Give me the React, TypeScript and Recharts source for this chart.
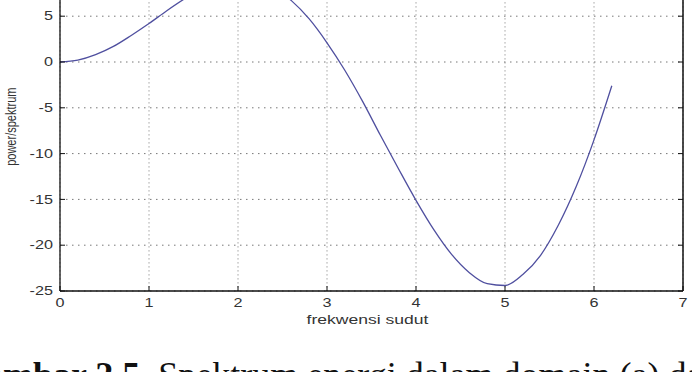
import React from 'react';
import { LineChart, Line, XAxis, YAxis, CartesianGrid, Label } from 'recharts';

const freq = [0, 0.2, 0.4, 0.6, 0.8, 1.0, 1.2, 1.4, 1.6, 1.8, 2.0, 2.2, 2.4, 2.6, 2.8, 3.0, 3.2, 3.4, 3.6, 3.8, 4.0, 4.2, 4.4, 4.6, 4.8, 5.0, 5.2, 5.4, 5.6, 5.8, 6.0, 6.2];
const power = [0, 0.2, 0.8, 1.7, 2.9, 4.2, 5.6, 6.9, 8.0, 8.8, 9.1, 8.9, 8.1, 6.7, 4.7, 2.1, -0.9, -4.3, -8.0, -11.6, -15.1, -18.3, -21.0, -23.0, -24.2, -24.4, -23.2, -21.1, -17.8, -13.6, -8.5, -2.6];
const xTicks = [0, 1, 2, 3, 4, 5, 6, 7];
const yTicks = [-25, -20, -15, -10, -5, 0, 5, 10];
const xLabel = 'frekwensi sudut';
const yLabel = 'power/spektrum';
const captionBold = 'Gambar 2.5.';
const captionRest = ' Spektrum energi dalam domain (a) dan (b)';

const data = freq.map((f, i) => ({ f, p: power[i] }));

const FONT = '"Liberation Sans", Arial, Helvetica, sans-serif';
const SX = 1.35;

const YTickLeft = (props: any) => {
  const { x, y, payload } = props;
  return (
    <g>
      <line x1={x} x2={x + 5} y1={y} y2={y} stroke="#111" strokeWidth={1} />
      <text
        transform={`translate(${x - 7},${y}) scale(${SX},1)`}
        textAnchor="end"
        dy="0.35em"
        fontSize={12}
        fill="#333"
        fontFamily={FONT}
      >
        {payload.value}
      </text>
    </g>
  );
};

const YTickRight = (props: any) => {
  const { x, y } = props;
  return <line x1={x} x2={x - 5} y1={y} y2={y} stroke="#111" strokeWidth={1} />;
};

const XTick = (props: any) => {
  const { x, y, payload } = props;
  return (
    <g>
      <line x1={x} x2={x} y1={y} y2={y - 5} stroke="#111" strokeWidth={1} />
      <text
        transform={`translate(${x},${y + 12}) scale(${SX},1)`}
        textAnchor="middle"
        dy="0.35em"
        fontSize={12}
        fill="#333"
        fontFamily={FONT}
      >
        {payload.value}
      </text>
    </g>
  );
};

const XLabelContent = (props: any) => {
  const vb = props.viewBox || {};
  const cx = vb.x + vb.width / 2 - 4;
  const cy = vb.y + 28;
  return (
    <text
      transform={`translate(${cx},${cy}) scale(${SX},1)`}
      textAnchor="middle"
      dy="0.35em"
      fontSize={13}
      fill="#333"
      fontFamily={FONT}
    >
      {xLabel}
    </text>
  );
};

const YLabelContent = (props: any) => {
  const vb = props.viewBox || {};
  const cy = vb.y + vb.height / 2 - 4;
  return (
    <text
      transform={`translate(11,${cy}) scale(1.3,1) rotate(-90)`}
      textAnchor="middle"
      dy="0.35em"
      fontSize={11}
      fill="#333"
      fontFamily={FONT}
    >
      {yLabel}
    </text>
  );
};

export default function App() {
  return (
    <div
      style={{
        position: 'fixed',
        left: 0,
        top: 0,
        width: 692,
        height: 372,
        overflow: 'hidden',
        background: '#fff',
      }}
    >
      <div style={{ position: 'absolute', left: 0, top: -40 }}>
        <LineChart
          width={723}
          height={412}
          data={data}
          margin={{ top: 10.4, right: 0, left: 0, bottom: 51 }}
        >
          <CartesianGrid
            yAxisId="l"
            horizontal={true}
            vertical={false}
            stroke="#777"
            strokeDasharray="1.5 4.5"
          />
          <CartesianGrid
            yAxisId="l"
            horizontal={false}
            vertical={true}
            stroke="#777"
            strokeDasharray="1 3"
          />
          <XAxis
            dataKey="f"
            type="number"
            domain={[0, 7]}
            ticks={xTicks}
            interval={0}
            height={30}
            tickSize={0}
            tickMargin={0}
            tickLine={false}
            axisLine={{ stroke: '#111', strokeWidth: 1.3 }}
            tick={<XTick />}
          >
            <Label content={<XLabelContent />} />
          </XAxis>
          <YAxis
            yAxisId="l"
            type="number"
            domain={[-25, 10]}
            ticks={yTicks}
            interval={0}
            width={60}
            tickSize={0}
            tickMargin={0}
            tickLine={false}
            axisLine={{ stroke: '#111', strokeWidth: 1.3 }}
            tick={<YTickLeft />}
          >
            <Label content={<YLabelContent />} />
          </YAxis>
          <YAxis
            yAxisId="r"
            orientation="right"
            type="number"
            domain={[-25, 10]}
            ticks={yTicks}
            interval={0}
            width={40}
            tickSize={0}
            tickMargin={0}
            axisLine={{ stroke: '#111', strokeWidth: 1.5 }}
            tick={<YTickRight />}
          />
          <Line
            yAxisId="l"
            type="monotone"
            dataKey="p"
            stroke="#4f4f9f"
            strokeWidth={1.3}
            dot={false}
            isAnimationActive={false}
          />
          <Line
            yAxisId="r"
            type="monotone"
            dataKey="p"
            stroke="none"
            dot={false}
            activeDot={false}
            legendType="none"
            isAnimationActive={false}
          />
        </LineChart>
      </div>
      <div
        style={{
          position: 'absolute',
          left: -43,
          top: 357,
          fontFamily: '"Liberation Serif", "Times New Roman", serif',
          fontSize: 36,
          lineHeight: '36px',
          whiteSpace: 'nowrap',
          color: '#111',
        }}
      >
        <b>{captionBold}</b>
        {captionRest}
      </div>
    </div>
  );
}
